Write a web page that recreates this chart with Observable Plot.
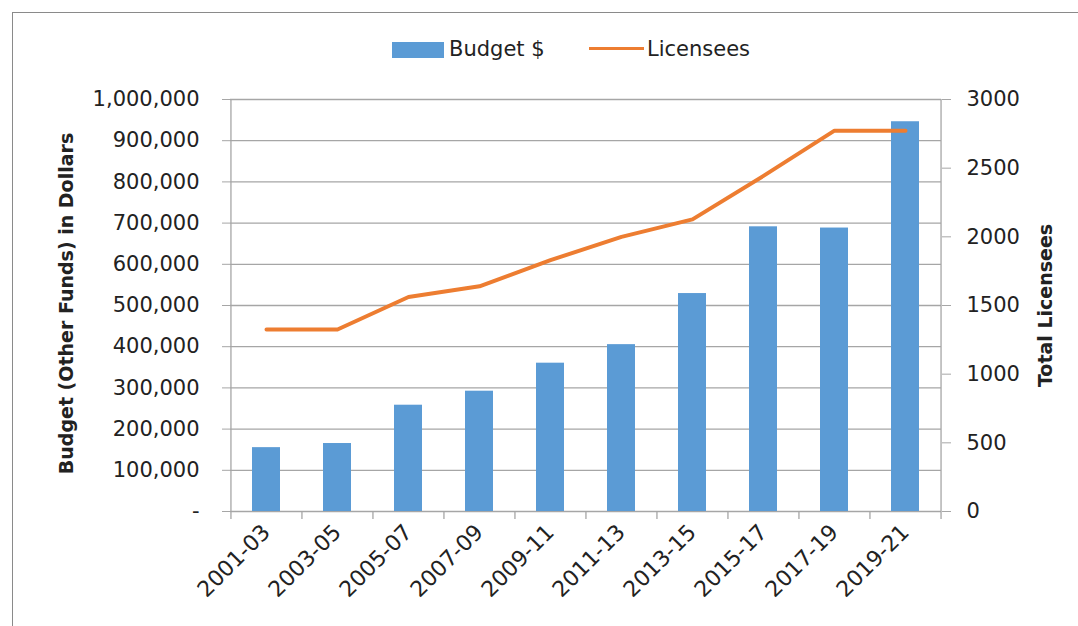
<!DOCTYPE html>
<html>
<head>
<meta charset="utf-8">
<script src="https://cdn.jsdelivr.net/npm/d3@7"></script>
<script src="https://cdn.jsdelivr.net/npm/@observablehq/plot@0.6"></script>
<style>
  html, body { margin: 0; padding: 0; background: #fff; overflow: hidden; }
  body { width: 1078px; height: 626px; position: relative; font-family: "DejaVu Sans", sans-serif; color: #222; }
  #frame { position: absolute; left: 12px; top: 12px; width: 1100px; height: 700px; border: 1.5px solid #8a8a8a; box-sizing: border-box; pointer-events: none; }
  #legend { position: absolute; left: 0; top: 0; width: 1078px; height: 70px; font-size: 21px; }
  #legend .sw { position: absolute; left: 392px; top: 41.5px; width: 52px; height: 16px; background: #5b9bd5; }
  #legend .t1 { position: absolute; left: 449px; top: 37px; line-height: normal; white-space: nowrap; }
  #legend .ln { position: absolute; left: 589px; top: 46.5px; width: 55px; height: 3.5px; background: #ed7d31; }
  #legend .t2 { position: absolute; left: 647px; top: 37px; line-height: normal; white-space: nowrap; }
  #chart { position: absolute; left: 0; top: 70px; }
</style>
</head>
<body>
<div id="frame"></div>
<div id="legend"></div>
<div id="chart"></div>
<script>
// ---- data ----
const periods = ["2001-03", "2003-05", "2005-07", "2007-09", "2009-11", "2011-13", "2013-15", "2015-17", "2017-19", "2019-21"];
const budget = [155000, 165000, 258000, 292000, 360000, 405000, 529000, 691000, 688000, 946000];
const licensees = [1325, 1325, 1562, 1640, 1830, 2000, 2127, 2444, 2773, 2773];
const budgetTicks = [0, 100000, 200000, 300000, 400000, 500000, 600000, 700000, 800000, 900000, 1000000];
const licenseeTicks = [0, 500, 1000, 1500, 2000, 2500, 3000];
const seriesNames = ["Budget $", "Licensees"];
const leftTitle = "Budget (Other Funds) in Dollars";
const rightTitle = "Total Licensees";

// ---- legend ----
const legend = document.getElementById("legend");
legend.innerHTML = `<div class="sw"></div><span class="t1">${seriesNames[0]}</span><div class="ln"></div><span class="t2">${seriesNames[1]}</span>`;

// ---- chart ----
const Y_MAX = 1000000, R_MAX = 3000;
const toLeft = v => v * Y_MAX / R_MAX;
const fromLeft = v => Math.round(v * R_MAX / Y_MAX);
const rows = periods.map((p, i) => ({period: p, budget: budget[i], licensees: licensees[i]}));

const W = 1078, H = 556, mL = 230, mR = 137, mT = 29, mB = 115;
const step = (W - mL - mR) / periods.length;
const grey = "#a6a6a6";
const fmt = d3.format(",");

const chart = Plot.plot({
  width: W, height: H,
  marginLeft: mL, marginRight: mR, marginTop: mT, marginBottom: mB,
  style: {fontFamily: "DejaVu Sans", fontSize: "21px", color: "#222", background: "transparent"},
  x: {domain: periods, paddingInner: 0.6, paddingOuter: 0.3, label: null},
  y: {domain: [0, Y_MAX], label: null},
  marks: [
    Plot.ruleY(budgetTicks, {stroke: grey, strokeWidth: 1.3}),
    // category boundary ticks
    Plot.ruleX(periods, {dx: -step / 2, y1: 0, y2: 0, insetTop: 8, stroke: grey, strokeWidth: 1.3}),
    Plot.ruleX([periods[periods.length - 1]], {dx: step / 2, y1: 0, y2: 0, insetTop: 8, stroke: grey, strokeWidth: 1.3}),
    // vertical axis lines
    Plot.ruleX([periods[0]], {dx: -step / 2, y1: 0, y2: Y_MAX, stroke: grey, strokeWidth: 1.3}),
    Plot.ruleX([periods[periods.length - 1]], {dx: step / 2, y1: 0, y2: Y_MAX, stroke: grey, strokeWidth: 1.3}),
    Plot.barY(rows, {x: "period", y: "budget", fill: "#5b9bd5"}),
    Plot.line(rows, {x: "period", y: d => toLeft(d.licensees), stroke: "#ed7d31", strokeWidth: 4, strokeLinecap: "round", strokeLinejoin: "round"}),
    Plot.axisY(budgetTicks, {anchor: "left", tickSize: 8, tickPadding: 23, stroke: grey, fill: "#222", tickFormat: d => d === 0 ? "-" : fmt(d), label: null}),
    Plot.axisY(licenseeTicks.map(toLeft), {anchor: "right", tickSize: 9, tickPadding: 16, stroke: grey, fill: "#222", tickFormat: d => String(fromLeft(d)), label: null}),
    Plot.axisX({anchor: "bottom", tickSize: 0, tickPadding: 17, tickRotate: -45, fontSize: 22, fill: "#222", label: null}),
    Plot.text([leftTitle], {frameAnchor: "left", textAnchor: "middle", rotate: -90, dx: -164, dy: -2, fontWeight: "bold", fontSize: 19, fill: "#222", text: d => d}),
    Plot.text([rightTitle], {frameAnchor: "right", textAnchor: "middle", rotate: -90, dx: 104, fontWeight: "bold", fontSize: 19, fill: "#222", text: d => d})
  ]
});
document.getElementById("chart").appendChild(chart);
</script>
</body>
</html>
